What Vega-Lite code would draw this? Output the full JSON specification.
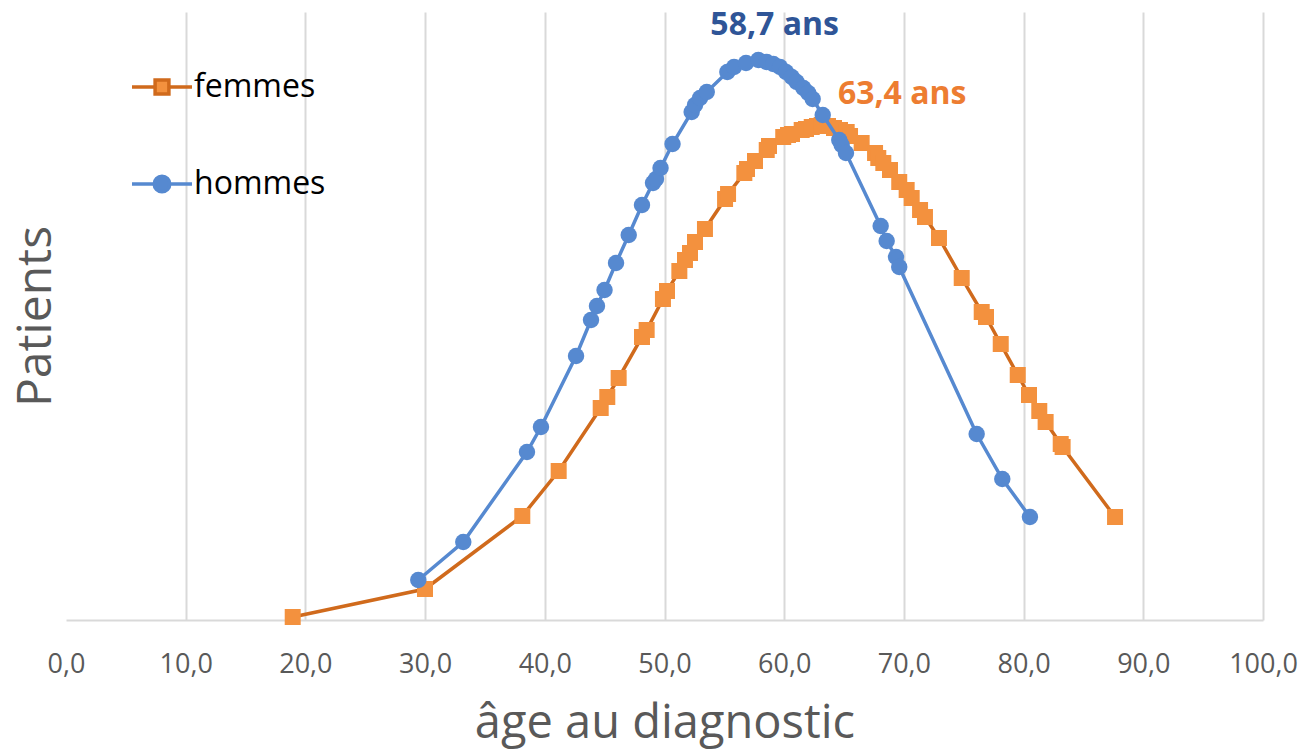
{
  "$schema": "https://vega.github.io/schema/vega-lite/v6.json",
  "width": 1197,
  "height": 608,
  "autosize": "none",
  "padding": {"left": 66, "top": 12, "right": 40, "bottom": 135},
  "background": "white",
  "datasets": {
    "series": [
      {"sexe": "femmes", "age": 18.94, "n": 3},
      {"sexe": "femmes", "age": 29.99, "n": 31},
      {"sexe": "femmes", "age": 38.12, "n": 104},
      {"sexe": "femmes", "age": 41.16, "n": 149},
      {"sexe": "femmes", "age": 44.67, "n": 212},
      {"sexe": "femmes", "age": 45.22, "n": 223},
      {"sexe": "femmes", "age": 46.17, "n": 242},
      {"sexe": "femmes", "age": 48.12, "n": 283},
      {"sexe": "femmes", "age": 48.51, "n": 290},
      {"sexe": "femmes", "age": 49.87, "n": 321},
      {"sexe": "femmes", "age": 50.21, "n": 329},
      {"sexe": "femmes", "age": 51.24, "n": 349},
      {"sexe": "femmes", "age": 51.71, "n": 360},
      {"sexe": "femmes", "age": 52.13, "n": 367},
      {"sexe": "femmes", "age": 52.55, "n": 378},
      {"sexe": "femmes", "age": 53.38, "n": 391},
      {"sexe": "femmes", "age": 55.06, "n": 421},
      {"sexe": "femmes", "age": 55.31, "n": 426},
      {"sexe": "femmes", "age": 56.67, "n": 447},
      {"sexe": "femmes", "age": 56.89, "n": 451},
      {"sexe": "femmes", "age": 57.56, "n": 459},
      {"sexe": "femmes", "age": 58.54, "n": 470},
      {"sexe": "femmes", "age": 58.73, "n": 474},
      {"sexe": "femmes", "age": 59.92, "n": 483},
      {"sexe": "femmes", "age": 60.32, "n": 485},
      {"sexe": "femmes", "age": 60.65, "n": 486},
      {"sexe": "femmes", "age": 61.46, "n": 490},
      {"sexe": "femmes", "age": 61.82, "n": 491},
      {"sexe": "femmes", "age": 62.3, "n": 493},
      {"sexe": "femmes", "age": 62.74, "n": 494},
      {"sexe": "femmes", "age": 63.13, "n": 495},
      {"sexe": "femmes", "age": 63.66, "n": 494},
      {"sexe": "femmes", "age": 64.16, "n": 492},
      {"sexe": "femmes", "age": 64.66, "n": 490},
      {"sexe": "femmes", "age": 65.22, "n": 488},
      {"sexe": "femmes", "age": 65.5, "n": 484},
      {"sexe": "femmes", "age": 66.47, "n": 477},
      {"sexe": "femmes", "age": 67.59, "n": 467},
      {"sexe": "femmes", "age": 67.86, "n": 462},
      {"sexe": "femmes", "age": 68.28, "n": 457},
      {"sexe": "femmes", "age": 68.84, "n": 450},
      {"sexe": "femmes", "age": 69.61, "n": 438},
      {"sexe": "femmes", "age": 70.23, "n": 430},
      {"sexe": "femmes", "age": 70.65, "n": 422},
      {"sexe": "femmes", "age": 71.35, "n": 410},
      {"sexe": "femmes", "age": 71.76, "n": 403},
      {"sexe": "femmes", "age": 72.93, "n": 382},
      {"sexe": "femmes", "age": 74.83, "n": 342},
      {"sexe": "femmes", "age": 76.5, "n": 308},
      {"sexe": "femmes", "age": 76.86, "n": 303},
      {"sexe": "femmes", "age": 78.09, "n": 276},
      {"sexe": "femmes", "age": 79.51, "n": 245},
      {"sexe": "femmes", "age": 80.45, "n": 225},
      {"sexe": "femmes", "age": 81.31, "n": 209},
      {"sexe": "femmes", "age": 81.84, "n": 198},
      {"sexe": "femmes", "age": 83.1, "n": 176},
      {"sexe": "femmes", "age": 83.26, "n": 173},
      {"sexe": "femmes", "age": 87.64, "n": 103},
      {"sexe": "hommes", "age": 29.43, "n": 40},
      {"sexe": "hommes", "age": 33.19, "n": 78},
      {"sexe": "hommes", "age": 38.51, "n": 168},
      {"sexe": "hommes", "age": 39.68, "n": 193},
      {"sexe": "hommes", "age": 42.61, "n": 264},
      {"sexe": "hommes", "age": 43.86, "n": 300},
      {"sexe": "hommes", "age": 44.36, "n": 314},
      {"sexe": "hommes", "age": 44.99, "n": 330},
      {"sexe": "hommes", "age": 45.95, "n": 357},
      {"sexe": "hommes", "age": 47.01, "n": 385},
      {"sexe": "hommes", "age": 48.12, "n": 415},
      {"sexe": "hommes", "age": 49.04, "n": 437},
      {"sexe": "hommes", "age": 49.29, "n": 441},
      {"sexe": "hommes", "age": 49.67, "n": 452},
      {"sexe": "hommes", "age": 50.67, "n": 476},
      {"sexe": "hommes", "age": 52.27, "n": 508},
      {"sexe": "hommes", "age": 52.55, "n": 515},
      {"sexe": "hommes", "age": 52.97, "n": 522},
      {"sexe": "hommes", "age": 53.53, "n": 528},
      {"sexe": "hommes", "age": 55.25, "n": 548},
      {"sexe": "hommes", "age": 55.81, "n": 553},
      {"sexe": "hommes", "age": 56.81, "n": 557},
      {"sexe": "hommes", "age": 57.84, "n": 560},
      {"sexe": "hommes", "age": 58.54, "n": 558},
      {"sexe": "hommes", "age": 59.09, "n": 556},
      {"sexe": "hommes", "age": 59.65, "n": 553},
      {"sexe": "hommes", "age": 60.15, "n": 548},
      {"sexe": "hommes", "age": 60.63, "n": 543},
      {"sexe": "hommes", "age": 61.04, "n": 538},
      {"sexe": "hommes", "age": 61.6, "n": 532},
      {"sexe": "hommes", "age": 62.01, "n": 527},
      {"sexe": "hommes", "age": 62.38, "n": 521},
      {"sexe": "hommes", "age": 63.22, "n": 505},
      {"sexe": "hommes", "age": 64.6, "n": 480},
      {"sexe": "hommes", "age": 64.8, "n": 475},
      {"sexe": "hommes", "age": 65.16, "n": 467},
      {"sexe": "hommes", "age": 68.06, "n": 394},
      {"sexe": "hommes", "age": 68.56, "n": 379},
      {"sexe": "hommes", "age": 69.34, "n": 363},
      {"sexe": "hommes", "age": 69.61, "n": 353},
      {"sexe": "hommes", "age": 76.08, "n": 186},
      {"sexe": "hommes", "age": 78.22, "n": 141},
      {"sexe": "hommes", "age": 80.53, "n": 103}
    ],
    "notes": [
      {"sexe": "hommes", "age": 58.7, "n": 560, "label": "58,7 ans"},
      {"sexe": "femmes", "age": 63.4, "n": 495, "label": "63,4 ans"}
    ]
  },
  "encoding": {
    "x": {
      "field": "age",
      "type": "quantitative",
      "scale": {"domain": [0, 100], "nice": false, "zero": false},
      "axis": {
        "values": [0, 10, 20, 30, 40, 50, 60, 70, 80, 90, 100],
        "labelExpr": "replace(format(datum.value, '.1f'), '.', ',')",
        "grid": true,
        "gridColor": {"condition": {"test": "datum.value === 0", "value": "transparent"}, "value": "#D9D9D9"},
        "gridWidth": 2,
        "domain": true,
        "domainColor": "#D9D9D9",
        "domainWidth": 2,
        "ticks": false,
        "tickSize": 0,
        "labelFlush": false,
        "labelOverlap": false,
        "labelFont": "Open Sans",
        "labelFontSize": 27,
        "labelColor": "#595959",
        "labelPadding": 31,
        "title": "âge au diagnostic",
        "titleFont": "Open Sans",
        "titleFontSize": 47,
        "titleFontWeight": "normal",
        "titleColor": "#595959",
        "titlePadding": 23
      }
    },
    "y": {
      "field": "n",
      "type": "quantitative",
      "scale": {"domain": [0, 608], "nice": false, "zero": false},
      "axis": {
        "title": "Patients",
        "labels": false,
        "ticks": false,
        "domain": false,
        "grid": false,
        "titleFont": "Open Sans",
        "titleFontSize": 48,
        "titleFontWeight": "normal",
        "titleColor": "#595959",
        "titlePadding": 6
      }
    }
  },
  "layer": [
    {
      "data": {"name": "series"},
      "transform": [{"filter": "datum.sexe === 'femmes'"}],
      "mark": {"type": "line", "strokeWidth": 3.5},
      "encoding": {
        "stroke": {
          "field": "sexe",
          "type": "nominal",
          "scale": {"domain": ["femmes", "hommes"], "range": ["#D06A1C", "#5689D0"]},
          "legend": {
            "title": null,
            "orient": "none",
            "legendX": 64,
            "legendY": 43,
            "symbolSize": 3600,
            "symbolStrokeWidth": 3.5,
            "rowPadding": 49,
            "labelFont": "Open Sans",
            "labelFontSize": 32,
            "labelColor": "#000000",
            "labelOffset": 0,
            "encode": {
              "symbols": {
                "update": {
                  "shape": {"signal": "datum.value === 'femmes' ? 'M-1,0H-0.27M0.27,0H1M-0.23,-0.23H0.23V0.23H-0.23Z' : 'M-1,0H-0.28M0.28,0H1M0.26,0A0.26,0.26 0 1 1 -0.26,0A0.26,0.26 0 1 1 0.26,0Z'"},
                  "fill": {"signal": "datum.value === 'femmes' ? '#F3913E' : '#5689D0'"},
                  "stroke": {"signal": "datum.value === 'femmes' ? '#E07A28' : '#5689D0'"},
                  "fillOpacity": {"value": 1},
                  "strokeWidth": {"value": 3.5}
                }
              }
            }
          }
        }
      }
    },
    {
      "data": {"name": "series"},
      "transform": [{"filter": "datum.sexe === 'femmes'"}],
      "mark": {"type": "point", "shape": "square", "filled": true, "size": 256, "opacity": 1, "color": "#F3913E"},
      "encoding": {}
    },
    {
      "data": {"name": "series"},
      "transform": [{"filter": "datum.sexe === 'hommes'"}],
      "mark": {"type": "line", "strokeWidth": 3.5},
      "encoding": {
        "stroke": {"field": "sexe", "type": "nominal"}
      }
    },
    {
      "data": {"name": "series"},
      "transform": [{"filter": "datum.sexe === 'hommes'"}],
      "mark": {"type": "point", "shape": "circle", "filled": true, "size": 270, "opacity": 1, "color": "#5689D0"},
      "encoding": {}
    },
    {
      "data": {"name": "notes"},
      "transform": [{"filter": "datum.sexe === 'hommes'"}],
      "mark": {"type": "text", "font": "Open Sans", "fontWeight": "bold", "fontSize": 32, "color": "#2F5597", "align": "center", "baseline": "middle", "dx": 6, "dy": -35},
      "encoding": {"text": {"field": "label"}}
    },
    {
      "data": {"name": "notes"},
      "transform": [{"filter": "datum.sexe === 'femmes'"}],
      "mark": {"type": "text", "font": "Open Sans", "fontWeight": "bold", "fontSize": 32, "color": "#ED7D31", "align": "left", "baseline": "middle", "dx": 13, "dy": -31},
      "encoding": {"text": {"field": "label"}}
    }
  ],
  "config": {
    "view": {"stroke": null},
    "font": "Open Sans"
  }
}
